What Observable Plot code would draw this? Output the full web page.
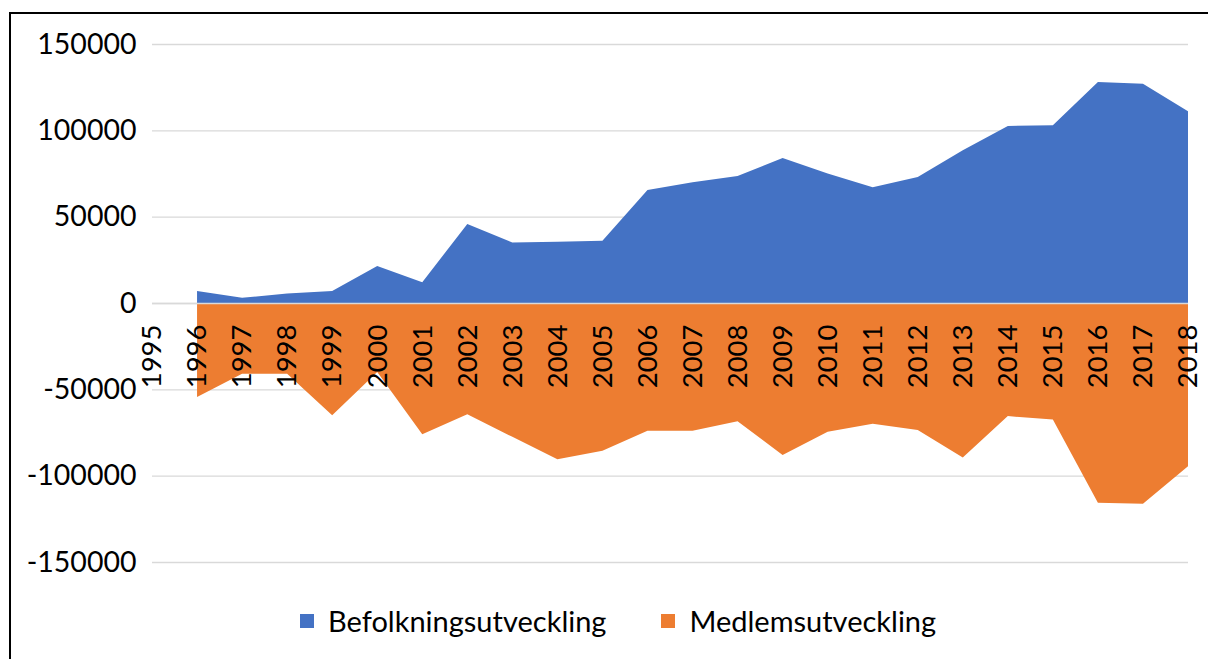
<!DOCTYPE html>
<html>
<head>
<meta charset="utf-8">
<script src="https://cdn.jsdelivr.net/npm/d3@7"></script>
<script src="https://cdn.jsdelivr.net/npm/@observablehq/plot@0.6"></script>
<style>
  html, body { margin: 0; padding: 0; background: #fff; overflow: hidden; }
  #wrap { position: relative; width: 1208px; height: 659px; font-family: Lato, "Open Sans", sans-serif; }
  #frame { position: absolute; left: 9px; top: 12px; width: 1210px; height: 660px; border: 2px solid #000; box-sizing: border-box; }
  #chart { position: absolute; left: 0; top: 0; }
  #legend { position: absolute; top: 603px; left: 300px; display: flex; align-items: center; font-size: 29px; color: #000; }
  .item { display: flex; align-items: center; }
  .sw { width: 14px; height: 14px; margin-right: 14px; }
</style>
</head>
<body>
<div id="wrap">
  <div id="frame"></div>
  <div id="chart"></div>
  <div id="legend"></div>
</div>
<script>
const years = [1995,1996,1997,1998,1999,2000,2001,2002,2003,2004,2005,2006,2007,2008,2009,2010,2011,2012,2013,2014,2015,2016,2017,2018];
const dataYears = [1996,1997,1998,1999,2000,2001,2002,2003,2004,2005,2006,2007,2008,2009,2010,2011,2012,2013,2014,2015,2016,2017,2018];
const befolkning = [7000,3000,5500,7000,21500,12000,45800,35000,35500,36000,65500,70000,73500,84000,75000,67000,73000,88500,102500,103000,128000,127000,111000];
const medlem = [-54500,-41000,-41000,-65000,-40000,-76000,-64500,-77500,-90500,-85500,-74000,-74000,-68500,-88000,-74500,-70000,-73500,-89500,-65500,-67500,-115700,-116200,-94500];
const yTicks = [-150000,-100000,-50000,0,50000,100000,150000];
const seriesNames = ["Befolkningsutveckling", "Medlemsutveckling"];
const colors = ["#4472C4", "#ED7D31"];

const popData = dataYears.map((y, i) => ({year: y, value: befolkning[i]}));
const memData = dataYears.map((y, i) => ({year: y, value: medlem[i]}));

const chart = Plot.plot({
  width: 1208,
  height: 590,
  marginLeft: 152,
  marginRight: 20,
  marginTop: 44,
  marginBottom: 28,
  style: {fontFamily: "Lato, 'Open Sans', sans-serif", background: "transparent"},
  x: {type: "linear", domain: [1995, 2018], axis: null},
  y: {domain: [-150000, 150000], axis: null},
  marks: [
    Plot.ruleY(yTicks, {x1: 1995, x2: 2018, stroke: "#d9d9d9", strokeWidth: 1.3}),
    Plot.areaY(popData, {x: "year", y: "value", fill: colors[0], curve: "linear"}),
    Plot.areaY(memData, {x: "year", y: "value", fill: colors[1], curve: "linear"}),
    Plot.ruleY([0], {x1: 1995, x2: 2018, stroke: "#d9d9d9", strokeWidth: 1.3}),
    Plot.axisY({ticks: yTicks, tickSize: 0, tickPadding: 16, tickFormat: d => String(d), fontSize: 28.5, fill: "#000", label: null}),
    Plot.text(years, {x: d => d, y: 0, text: d => String(d), rotate: -90, textAnchor: "end", lineAnchor: "middle", dy: 21, fontSize: 27.5, fill: "#000"})
  ]
});
document.getElementById("chart").appendChild(chart);

const legend = document.getElementById("legend");
seriesNames.forEach((name, i) => {
  const item = document.createElement("div");
  item.className = "item";
  if (i > 0) item.style.marginLeft = "55px";
  const sw = document.createElement("div");
  sw.className = "sw";
  sw.style.background = colors[i];
  const t = document.createElement("span");
  t.textContent = name;
  item.appendChild(sw);
  item.appendChild(t);
  legend.appendChild(item);
});
</script>
</body>
</html>
